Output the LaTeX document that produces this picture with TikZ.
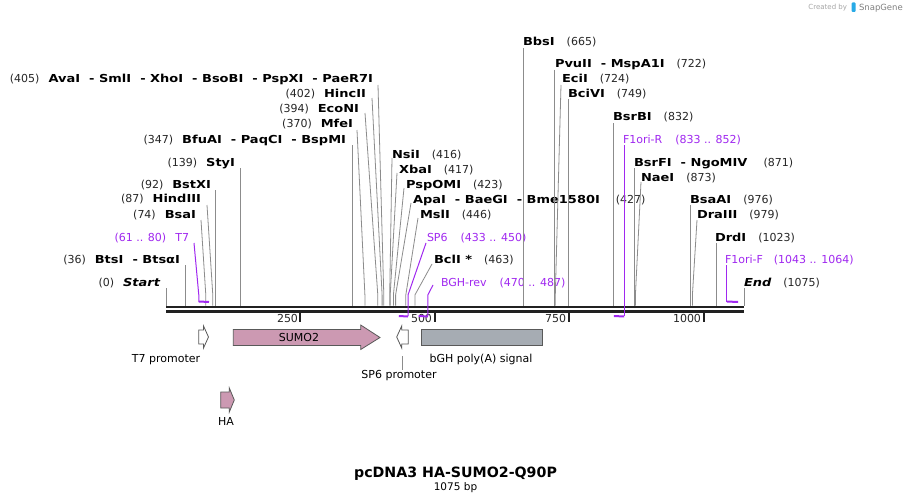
\documentclass[tikz,border=0pt]{standalone}
\usepackage{fontspec}
\setmainfont{DejaVu Sans}
\newfontfamily\enzfont[FakeStretch=1.18]{DejaVu Sans}
\usetikzlibrary{positioning}
\definecolor{primer}{RGB}{160,40,240}
\definecolor{orf}{RGB}{204,153,178}
\definecolor{polya}{RGB}{166,172,179}
\definecolor{cutline}{RGB}{140,140,140}
\definecolor{snapblue}{RGB}{40,170,230}

\begin{document}
\begin{tikzpicture}[x=1pt,y=-1pt,
  enz/.style={font=\fontsize{11}{13}\enzfont\bfseries, inner sep=0pt, outer sep=0pt},
  ends/.style={font=\fontsize{11}{13}\enzfont\bfseries\itshape, inner sep=0pt, outer sep=0pt},
  loc/.style={font=\fontsize{11}{13}\selectfont, inner sep=0pt, outer sep=0pt, text=black!85},
  prm/.style={font=\fontsize{11}{13}\selectfont, inner sep=0pt, outer sep=0pt, text=primer},
  ftxt/.style={font=\fontsize{11}{13}\selectfont, inner sep=0pt, outer sep=0pt, anchor=base},
  cut/.style={draw=cutline, line width=0.8pt},
  primerline/.style={draw=primer, line width=1pt},
  bracket/.style={draw=primer, line width=2pt},
  feat/.style={draw=black!65, line width=0.8pt}]

\useasboundingbox [fill=white] (0,0) rectangle (911,503) ;

%backbone
\coordinate (bbleft) at (166,307) ;
\coordinate (bbright) at (744,307) ;
\draw [line width=2.6pt, black!87] (bbleft) -- (bbright) ;
\draw [line width=2.6pt, black!87] ([yshift=-4.4pt]bbleft) -- ([yshift=-4.4pt]bbright) ;
\coordinate (knee) at (0,295) ;

%ruler ticks
\draw [line width=2pt, black!87] (300.4,312) -- (300.4,322) node [loc, anchor=base east] (t250) at (298,322) {250} ;
\draw [line width=2pt, black!87] (434.8,312) -- (434.8,322) node [loc, anchor=base east] (t500) at (432,322) {500} ;
\draw [line width=2pt, black!87] (569.2,312) -- (569.2,322) node [loc, anchor=base east] (t750) at (566,322) {750} ;
\draw [line width=2pt, black!87] (703.7,312) -- (703.7,322) node [loc, anchor=base east] (t1000) at (701,322) {1000} ;

%sites on the backbone
\coordinate (s0) at (166.0,305.5) ;
\coordinate (s36) at (185.4,305.5) ;
\coordinate (s74) at (205.8,305.5) ;
\coordinate (s87) at (212.8,305.5) ;
\coordinate (s92) at (215.5,305.5) ;
\coordinate (s139) at (240.7,305.5) ;
\coordinate (s347) at (352.6,305.5) ;
\coordinate (s370) at (364.9,305.5) ;
\coordinate (s394) at (377.8,305.5) ;
\coordinate (s402) at (382.1,305.5) ;
\coordinate (s405) at (383.8,305.5) ;
\coordinate (s416) at (389.7,305.5) ;
\coordinate (s417) at (390.2,305.5) ;
\coordinate (s423) at (393.4,305.5) ;
\coordinate (s427) at (395.6,305.5) ;
\coordinate (s446) at (405.8,305.5) ;
\coordinate (s463) at (414.9,305.5) ;
\coordinate (s665) at (523.5,305.5) ;
\coordinate (s722) at (554.2,305.5) ;
\coordinate (s724) at (555.3,305.5) ;
\coordinate (s749) at (568.7,305.5) ;
\coordinate (s832) at (613.3,305.5) ;
\coordinate (s871) at (634.3,305.5) ;
\coordinate (s873) at (635.4,305.5) ;
\coordinate (s976) at (690.8,305.5) ;
\coordinate (s979) at (692.4,305.5) ;
\coordinate (s1023) at (716.0,305.5) ;
\coordinate (s1075) at (744.0,305.5) ;

%primer ends
\coordinate (p61) at (198.8,302) ;
\coordinate (p80) at (209.0,302) ;
\coordinate (p433) at (398.8,316) ;
\coordinate (p450) at (408.0,316) ;
\coordinate (p470) at (418.7,316) ;
\coordinate (p487) at (427.8,316) ;
\coordinate (p833) at (613.9,316) ;
\coordinate (p852) at (624.1,316) ;
\coordinate (p1043) at (726.8,302) ;
\coordinate (p1064) at (738.1,302) ;

%left labels
\node [ends, anchor=base east] (start) at (160,286) {Start} ;
\node [loc, base left=9pt of start] (lstart) {(0)} ;
\node [enz, anchor=base east] (btsi) at (180,263) {BtsI~~- BtsαI} ;
\node [loc, base left=9pt of btsi] (lbtsi) {(36)} ;
\node [prm, anchor=base east] (t7) at (189,241) {T7} ;
\node [prm, base left=9pt of t7] (lt7) {(61 .. 80)} ;
\node [enz, anchor=base east] (bsai) at (196,218) {BsaI} ;
\node [loc, base left=9pt of bsai] (lbsai) {(74)} ;
\node [enz, anchor=base east] (hind) at (201,202) {HindIII} ;
\node [loc, base left=9pt of hind] (lhind) {(87)} ;
\node [enz, anchor=base east] (bstxi) at (211,188) {BstXI} ;
\node [loc, base left=9pt of bstxi] (lbstxi) {(92)} ;
\node [enz, anchor=base east] (styi) at (235,166) {StyI} ;
\node [loc, base left=9pt of styi] (lstyi) {(139)} ;
\node [enz, anchor=base east] (bfuai) at (346,143) {BfuAI~~- PaqCI~~- BspMI} ;
\node [loc, base left=9pt of bfuai] (lbfuai) {(347)} ;
\node [enz, anchor=base east] (mfei) at (353,128) {MfeI} ;
\node [loc, base left=9pt of mfei] (lmfei) {(370)} ;
\node [enz, anchor=base east] (econi) at (359,112) {EcoNI} ;
\node [loc, base left=9pt of econi] (leconi) {(394)} ;
\node [enz, anchor=base east] (hincii) at (366,97) {HincII} ;
\node [loc, base left=9pt of hincii] (lhincii) {(402)} ;
\node [enz, anchor=base east] (avai) at (373,82) {AvaI~~- SmlI~~- XhoI~~- BsoBI~~- PspXI~~- PaeR7I} ;
\node [loc, base left=9pt of avai] (lavai) {(405)} ;

%right labels
\node [enz, anchor=base west] (nsii) at (392,158) {NsiI} ;
\node [loc, base right=12pt of nsii] (lnsii) {(416)} ;
\node [enz, anchor=base west] (xbai) at (399,173) {XbaI} ;
\node [loc, base right=12pt of xbai] (lxbai) {(417)} ;
\node [enz, anchor=base west] (pspomi) at (406,188) {PspOMI} ;
\node [loc, base right=12pt of pspomi] (lpspomi) {(423)} ;
\node [enz, anchor=base west] (apai) at (413,203) {ApaI~~- BaeGI~~- Bme1580I} ;
\node [loc, base right=16pt of apai] (lapai) {(427)} ;
\node [enz, anchor=base west] (msli) at (420,218) {MslI} ;
\node [loc, base right=12pt of msli] (lmsli) {(446)} ;
\node [prm, anchor=base west] (sp6) at (427,241) {SP6} ;
\node [prm, base right=13pt of sp6] (lsp6) {(433 .. 450)} ;
\node [enz, anchor=base west] (bcli) at (434,263) {BclI *} ;
\node [loc, base right=12pt of bcli] (lbcli) {(463)} ;
\node [prm, anchor=base west] (bghrev) at (441,286) {BGH-rev} ;
\node [prm, base right=13pt of bghrev] (lbghrev) {(470 .. 487)} ;
\node [enz, anchor=base west] (bbsi) at (523,46) {BbsI} ;
\node [loc, base right=12pt of bbsi] (lbbsi) {(665)} ;
\node [enz, anchor=base west] (pvuii) at (555,68) {PvuII~~- MspA1I} ;
\node [loc, base right=12pt of pvuii] (lpvuii) {(722)} ;
\node [enz, anchor=base west] (ecii) at (562,82) {EciI} ;
\node [loc, base right=12pt of ecii] (lecii) {(724)} ;
\node [enz, anchor=base west] (bcivi) at (568,97) {BciVI} ;
\node [loc, base right=12pt of bcivi] (lbcivi) {(749)} ;
\node [enz, anchor=base west] (bsrbi) at (613,121) {BsrBI} ;
\node [loc, base right=12pt of bsrbi] (lbsrbi) {(832)} ;
\node [prm, anchor=base west] (f1r) at (623,143) {F1ori-R} ;
\node [prm, base right=13pt of f1r] (lf1r) {(833 .. 852)} ;
\node [enz, anchor=base west] (bsrfi) at (634,166) {BsrFI~~- NgoMIV} ;
\node [loc, base right=16pt of bsrfi] (lbsrfi) {(871)} ;
\node [enz, anchor=base west] (naei) at (641,181) {NaeI} ;
\node [loc, base right=12pt of naei] (lnaei) {(873)} ;
\node [enz, anchor=base west] (bsaai) at (690,203) {BsaAI} ;
\node [loc, base right=12pt of bsaai] (lbsaai) {(976)} ;
\node [enz, anchor=base west] (draiii) at (697,218) {DraIII} ;
\node [loc, base right=12pt of draiii] (ldraiii) {(979)} ;
\node [enz, anchor=base west] (drdi) at (715,241) {DrdI} ;
\node [loc, base right=12pt of drdi] (ldrdi) {(1023)} ;
\node [prm, anchor=base west] (f1f) at (725,263) {F1ori-F} ;
\node [prm, base right=11pt of f1f] (lf1f) {(1043 .. 1064)} ;
\node [ends, anchor=base west] (end) at (744,286) {End} ;
\node [loc, base right=12pt of end] (lend) {(1075)} ;

%left site lines
\draw [cut] (s0 |- start.base) ++(0,2) -- (s0) ;
\draw [cut] (s36 |- btsi.base) ++(0,2) -- (s36) ;
\draw [cut] (bsai.base east) ++(5,2) -- (s74 |- knee) -- (s74) ;
\draw [cut] (hind.base east) ++(6,3) -- (s87 |- knee) -- (s87) ;
\draw [cut] (s92 |- bstxi.base) ++(0,2) -- (s92) ;
\draw [cut] (s139 |- styi.base) ++(0,2) -- (s139) ;
\draw [cut] (s347 |- bfuai.base) ++(0,2) -- (s347) ;
\draw [cut] (mfei.base east) ++(4,2) -- (s370 |- knee) -- (s370) ;
\draw [cut] (econi.base east) ++(6,1) -- (s394 |- knee) -- (s394) ;
\draw [cut] (hincii.base east) ++(6,1) -- (s402 |- knee) -- (s402) ;
\draw [cut] (avai.base east) ++(5,3) -- (s405 |- knee) -- (s405) ;

%right site lines
\draw [cut] (nsii.base west) ++(0,0) -- (s416 |- knee) -- (s416) ;
\draw [cut] (xbai.base west) ++(-2,0) -- (s417 |- knee) -- (s417) ;
\draw [cut] (pspomi.base west) ++(-2,0) -- (s423 |- knee) -- (s423) ;
\draw [cut] (apai.base west) ++(-2,0) -- (s427 |- knee) -- (s427) ;
\draw [cut] (msli.base west) ++(-2,0) -- (s446 |- knee) -- (s446) ;
\draw [cut] (bcli.base west) ++(-2,1) -- (s463 |- knee) -- (s463) ;
\draw [cut] (s665 |- bbsi.base) ++(0,2) -- (s665) ;
\draw [cut] (s722 |- pvuii.base) ++(0,2) -- (s722) ;
\draw [cut] (ecii.base west) ++(-1,3) -- (s724 |- knee) -- (s724) ;
\draw [cut] (s749 |- bcivi.base) ++(0,2) -- (s749) ;
\draw [cut] (s832 |- bsrbi.base) ++(0,2) -- (s832) ;
\draw [cut] (s871 |- bsrfi.base) ++(0,2) -- (s871) ;
\draw [cut] (naei.base west) ++(0,1) -- (s873 |- knee) -- (s873) ;
\draw [cut] (s976 |- bsaai.base) ++(0,2) -- (s976) ;
\draw [cut] (draiii.base west) ++(0,2) -- (s979 |- knee) -- (s979) ;
\draw [cut] (s1023 |- drdi.base) ++(0,2) -- (s1023) ;
\draw [cut] (s1075 |- end.base) ++(0,2) -- (s1075) ;

%primers
\draw [primerline] (t7.base east) ++(5,2) -- (p61 |- knee) -- (p61) ;
\draw [bracket] ([yshift=0.5pt]p61) -- (p80) ;
\draw [primerline] (sp6.base west) ++(-1,2) -- (p450 |- knee) -- (p450) ;
\draw [bracket] ([yshift=-0.5pt]p450) -- (p433) ;
\draw [primerline] (bghrev.base west) ++(-8,-1) -- (p487 |- knee) -- (p487) ;
\draw [bracket] ([yshift=-0.5pt]p487) -- (p470) ;
\draw [primerline] (p852 |- f1r.base) ++(0,2) -- (p852) ;
\draw [bracket] ([yshift=-0.5pt]p852) -- (p833) ;
\draw [primerline] (p1043 |- f1f.base) ++(0,2) -- (p1043) ;
\draw [bracket] ([yshift=0.5pt]p1043) -- (p1064) ;

%features
\draw [feat, fill=white] (198.8,330) -- (203.5,330) -- (203.5,326) -- (208.5,337) -- (203.5,348) -- (203.5,344) -- (198.8,344) -- cycle ;
\draw [feat, fill=orf] (233.3,329.5) -- (360.7,329.5) -- (360.7,325) -- (380,337.5) -- (360.7,349.5) -- (360.7,345.5) -- (233.3,345.5) -- cycle ;
\draw [feat, fill=white] (408.3,330) -- (401.7,330) -- (401.7,326) -- (396.7,337) -- (401.7,348) -- (401.7,344) -- (408.3,344) -- cycle ;
\draw [feat, fill=polya] (421,329.5) rectangle (542.3,345.5) ;
\draw [feat, fill=orf] (220.7,392) -- (229.3,392) -- (229.3,388) -- (234.3,400) -- (229.3,412) -- (229.3,408) -- (220.7,408) -- cycle ;

%feature labels
\node [ftxt] (t7prom) at (166,362) {T7 promoter} ;
\node [ftxt] (sumo) at (299,341) {SUMO2} ;
\node [ftxt] (sp6prom) at (399,378) {SP6 promoter} ;
\node [ftxt] (bgh) at (481,362) {bGH poly(A) signal} ;
\node [ftxt] (ha) at (226,425) {HA} ;
\coordinate (sp6foot) at (402.7,356) ;
\draw [cut] (sp6foot) -- (sp6foot |- sp6prom.north) ;

%title
\node [ftxt, font=\fontsize{14.2}{17}\selectfont\bfseries] (title) at (455.5,477) {pcDNA3 HA-SUMO2-Q90P} ;
\node [ftxt, font=\fontsize{10.5}{12}\selectfont] (size) at (455.5,490) {1075 bp} ;

%created by
\node [ftxt, anchor=base east, font=\fontsize{7}{8}\selectfont, text=black!35] (made) at (847,10) {Created by} ;
\fill [snapblue, rounded corners=1pt] (851.5,2.5) rectangle (855.5,12) ;
\node [ftxt, anchor=base west, font=\fontsize{8.5}{10}\selectfont, text=black!50] (snap) at (859,10.5) {SnapGene} ;

\end{tikzpicture}
\end{document}
